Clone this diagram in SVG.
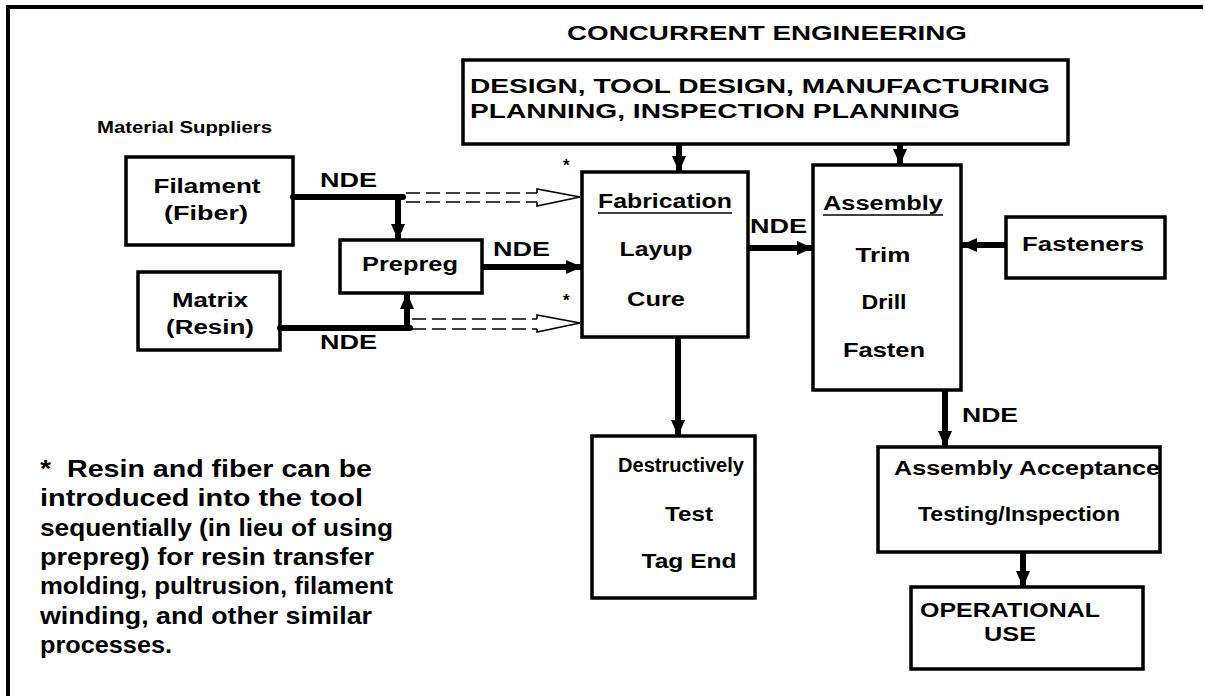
<svg xmlns="http://www.w3.org/2000/svg" width="1205" height="696" viewBox="0 0 1205 696">
<defs>
<style>
text{font-family:"Liberation Sans",Arial,sans-serif;font-weight:bold;fill:#000}
.box{fill:#fff;stroke:#000;stroke-width:3.5}
.thick{stroke:#000;stroke-width:6;fill:none}
.dash{stroke:#000;stroke-width:1.6;fill:none;stroke-dasharray:14 6}
.hollow{stroke:#000;stroke-width:1.6;fill:none}
.t17{font-size:17px}
.t20{font-size:20px}
.t24{font-size:24px}
</style>
<marker id="ah" markerUnits="userSpaceOnUse" markerWidth="18" markerHeight="18" refX="16" refY="9" orient="auto">
<path d="M0,2 L16,9 L0,16 Z" fill="#000"/>
</marker>
</defs>
<rect width="1205" height="696" fill="#fff"/>
<path d="M8,696 V7 H1203" fill="none" stroke="#000" stroke-width="4"/>

<text x="767" y="40" class="t20" text-anchor="middle" textLength="400" lengthAdjust="spacingAndGlyphs">CONCURRENT ENGINEERING</text>
<text x="97" y="133" class="t17" textLength="175" lengthAdjust="spacingAndGlyphs">Material Suppliers</text>

<g id="design">
<rect class="box" x="463" y="60" width="605" height="84"/>
<text x="470" y="93" class="t20" textLength="580" lengthAdjust="spacingAndGlyphs">DESIGN, TOOL DESIGN, MANUFACTURING</text>
<text x="470" y="118" class="t20" textLength="490" lengthAdjust="spacingAndGlyphs">PLANNING, INSPECTION PLANNING</text>
</g>
<g id="filament">
<rect class="box" x="126" y="157" width="167" height="88"/>
<text x="207" y="193" class="t20" text-anchor="middle" textLength="107" lengthAdjust="spacingAndGlyphs">Filament</text>
<text x="206" y="220" class="t20" text-anchor="middle" textLength="84" lengthAdjust="spacingAndGlyphs">(Fiber)</text>
</g>
<g id="matrix">
<rect class="box" x="138" y="272" width="142" height="78"/>
<text x="210" y="307" class="t20" text-anchor="middle" textLength="76" lengthAdjust="spacingAndGlyphs">Matrix</text>
<text x="210" y="334" class="t20" text-anchor="middle" textLength="88" lengthAdjust="spacingAndGlyphs">(Resin)</text>
</g>
<g id="prepreg">
<rect class="box" x="340" y="240" width="142" height="53"/>
<text x="410" y="271" class="t20" text-anchor="middle" textLength="96" lengthAdjust="spacingAndGlyphs">Prepreg</text>
</g>
<g id="fabrication">
<rect class="box" x="582" y="172" width="166" height="165"/>
<text x="665" y="208" class="t20" text-anchor="middle" textLength="134" lengthAdjust="spacingAndGlyphs">Fabrication</text>
<line x1="598" y1="213" x2="732" y2="213" stroke="#000" stroke-width="1.6"/>
<text x="656" y="256" class="t20" text-anchor="middle" textLength="73" lengthAdjust="spacingAndGlyphs">Layup</text>
<text x="656" y="306" class="t20" text-anchor="middle" textLength="58" lengthAdjust="spacingAndGlyphs">Cure</text>
</g>
<g id="assembly">
<rect class="box" x="813" y="165" width="148" height="225"/>
<text x="883" y="210" class="t20" text-anchor="middle" textLength="120" lengthAdjust="spacingAndGlyphs">Assembly</text>
<line x1="823" y1="215" x2="943" y2="215" stroke="#000" stroke-width="1.6"/>
<text x="883" y="262" class="t20" text-anchor="middle" textLength="55" lengthAdjust="spacingAndGlyphs">Trim</text>
<text x="884" y="309" class="t20" text-anchor="middle" textLength="45" lengthAdjust="spacingAndGlyphs">Drill</text>
<text x="884" y="357" class="t20" text-anchor="middle" textLength="82" lengthAdjust="spacingAndGlyphs">Fasten</text>
</g>
<g id="fasteners">
<rect class="box" x="1006" y="217" width="159" height="61"/>
<text x="1083" y="251" class="t20" text-anchor="middle" textLength="122" lengthAdjust="spacingAndGlyphs">Fasteners</text>
</g>
<g id="destructive">
<rect class="box" x="592" y="436" width="163" height="162"/>
<text x="681" y="472" class="t20" text-anchor="middle" textLength="126" lengthAdjust="spacingAndGlyphs">Destructively</text>
<text x="689" y="521" class="t20" text-anchor="middle" textLength="48" lengthAdjust="spacingAndGlyphs">Test</text>
<text x="689" y="568" class="t20" text-anchor="middle" textLength="95" lengthAdjust="spacingAndGlyphs">Tag End</text>
</g>
<g id="acceptance">
<rect class="box" x="878" y="447" width="282" height="105"/>
<text x="1027" y="475" class="t20" text-anchor="middle" textLength="266" lengthAdjust="spacingAndGlyphs">Assembly Acceptance</text>
<text x="1019" y="521" class="t20" text-anchor="middle" textLength="202" lengthAdjust="spacingAndGlyphs">Testing/Inspection</text>
</g>
<g id="operational">
<rect class="box" x="911" y="587" width="232" height="82"/>
<text x="1010" y="617" class="t20" text-anchor="middle" textLength="180" lengthAdjust="spacingAndGlyphs">OPERATIONAL</text>
<text x="1010" y="641" class="t20" text-anchor="middle" textLength="52" lengthAdjust="spacingAndGlyphs">USE</text>
</g>

<g id="connectors">
<path class="thick" d="M293,197 H403" stroke-linecap="round"/>
<line class="thick" x1="398" y1="197" x2="398" y2="240" marker-end="url(#ah)"/>
<path class="thick" d="M280,328 H410" stroke-linecap="round"/>
<line class="thick" x1="407" y1="328" x2="407" y2="293" marker-end="url(#ah)"/>
<line class="thick" x1="482" y1="267" x2="582" y2="267" marker-end="url(#ah)"/>
<line class="thick" x1="679" y1="144" x2="679" y2="172" marker-end="url(#ah)"/>
<line class="thick" x1="900" y1="144" x2="900" y2="165" marker-end="url(#ah)"/>
<line class="thick" x1="748" y1="248" x2="813" y2="248" marker-end="url(#ah)"/>
<line class="thick" x1="1006" y1="245" x2="961" y2="245" marker-end="url(#ah)"/>
<line class="thick" x1="678" y1="337" x2="678" y2="436" marker-end="url(#ah)"/>
<line class="thick" x1="945" y1="390" x2="945" y2="447" marker-end="url(#ah)"/>
<line class="thick" x1="1023" y1="552" x2="1023" y2="587" marker-end="url(#ah)"/>
<path class="dash" d="M406,193 H537 M406,202 H537"/>
<path class="hollow" d="M537,193 V189 L580,197 L537,206 V202"/>
<path class="dash" d="M412,319 H537 M412,329 H537"/>
<path class="hollow" d="M537,319 V315 L580,323 L537,332 V329"/>
<text x="320" y="187" class="t20" textLength="57" lengthAdjust="spacingAndGlyphs">NDE</text>
<text x="320" y="349" class="t20" textLength="57" lengthAdjust="spacingAndGlyphs">NDE</text>
<text x="493" y="256" class="t20" textLength="57" lengthAdjust="spacingAndGlyphs">NDE</text>
<text x="750" y="233" class="t20" textLength="57" lengthAdjust="spacingAndGlyphs">NDE</text>
<text x="962" y="422" class="t20" textLength="56" lengthAdjust="spacingAndGlyphs">NDE</text>
<text x="563" y="171" class="t17">*</text>
<text x="563" y="306" class="t17">*</text>
</g>

<g id="footnote" class="t24">
<text x="40" y="477" textLength="332" lengthAdjust="spacingAndGlyphs" xml:space="preserve">*  Resin and fiber can be</text>
<text x="40" y="506" textLength="323" lengthAdjust="spacingAndGlyphs">introduced into the tool</text>
<text x="40" y="536" textLength="353" lengthAdjust="spacingAndGlyphs">sequentially (in lieu of using</text>
<text x="40" y="565" textLength="334" lengthAdjust="spacingAndGlyphs">prepreg) for resin transfer</text>
<text x="40" y="594" textLength="353" lengthAdjust="spacingAndGlyphs">molding, pultrusion, filament</text>
<text x="40" y="624" textLength="332" lengthAdjust="spacingAndGlyphs">winding, and other similar</text>
<text x="40" y="653" textLength="132" lengthAdjust="spacingAndGlyphs">processes.</text>
</g>
</svg>
